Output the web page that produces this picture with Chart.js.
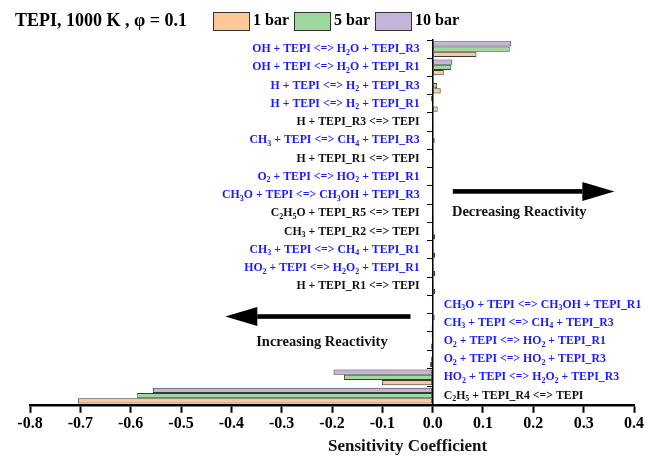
<!DOCTYPE html>
<html>
<head>
<meta charset="utf-8">
<title>TEPI sensitivity, 1000 K</title>
<script src="https://cdn.jsdelivr.net/npm/chart.js@4.4.1/dist/chart.umd.min.js"></script>
<style>
  body { margin: 0; background: #fff; }
  #wrap { width: 648px; height: 458px; }
</style>
</head>
<body>
<div id="wrap"><canvas id="sensChart" width="648" height="458"></canvas></div>
<script>
// reactions, top to bottom as in the figure
const reactions = [
    'OH + TEPI <=> H₂O + TEPI_R3',
    'OH + TEPI <=> H₂O + TEPI_R1',
    'H + TEPI <=> H₂ + TEPI_R3',
    'H + TEPI <=> H₂ + TEPI_R1',
    'H + TEPI_R3 <=> TEPI',
    'CH₃ + TEPI <=> CH₄ + TEPI_R3',
    'H + TEPI_R1 <=> TEPI',
    'O₂ + TEPI <=> HO₂ + TEPI_R1',
    'CH₃O + TEPI <=> CH₃OH + TEPI_R3',
    'C₂H₅O + TEPI_R5 <=> TEPI',
    'CH₃ + TEPI_R2 <=> TEPI',
    'CH₃ + TEPI <=> CH₄ + TEPI_R1',
    'HO₂ + TEPI <=> H₂O₂ + TEPI_R1',
    'H + TEPI_R1 <=> TEPI',
    'CH₃O + TEPI <=> CH₃OH + TEPI_R1',
    'CH₃ + TEPI <=> CH₄ + TEPI_R3',
    'O₂ + TEPI <=> HO₂ + TEPI_R1',
    'O₂ + TEPI <=> HO₂ + TEPI_R3',
    'HO₂ + TEPI <=> H₂O₂ + TEPI_R3',
    'C₂H₅ + TEPI_R4 <=> TEPI'
];

const bar1 = [0.087, 0.022, 0.016, 0.010, 0.002, 0.001, 0.002, 0.001, 0.001, 0.002,
              0.005, 0.005, 0.005, 0.005, -0.001, -0.002, -0.003, -0.005, -0.101, -0.705];
const bar5 = [0.153, 0.037, 0.009, 0.001, 0.001, 0.004, 0.001, 0.000, 0.000, 0.001,
              0.002, 0.002, 0.002, 0.002, -0.001, -0.001, -0.001, -0.003, -0.176, -0.587];
const bar10 = [0.156, 0.039, 0.002, -0.003, 0.001, 0.001, 0.002, 0.000, 0.000, 0.001,
               0.001, 0.001, 0.001, 0.001, 0.001, 0.004, -0.002, -0.001, -0.197, -0.556];

const xTickValues = [-0.8, -0.7, -0.6, -0.5, -0.4, -0.3, -0.2, -0.1, 0.0, 0.1, 0.2, 0.3, 0.4];

const FONT = "'Liberation Serif', 'Times New Roman', serif";
const BLUE = '#1a1aff';

function bold(size) {
    return 'bold ' + size + 'px ' + FONT;
}

// splits "H₂O" into runs so the digits can be drawn as real subscripts
function splitSubs(text) {
    const runs = [];
    for (const ch of text) {
        const code = ch.charCodeAt(0);
        const sub = code >= 0x2080 && code <= 0x2089;
        const c = sub ? String(code - 0x2080) : ch;
        if (runs.length && runs[runs.length - 1].sub === sub) {
            runs[runs.length - 1].t += c;
        } else {
            runs.push({ t: c, sub: sub });
        }
    }
    return runs;
}

function drawRich(ctx, text, x, y, align, size) {
    const runs = splitSubs(text);
    const subSize = Math.round(size * 0.68);
    let width = 0;
    runs.forEach(r => {
        ctx.font = bold(r.sub ? subSize : size);
        r.w = ctx.measureText(r.t).width;
        width += r.w;
    });
    let cx = align === 'right' ? x - width : x;
    ctx.textAlign = 'left';
    ctx.textBaseline = 'middle';
    runs.forEach(r => {
        ctx.font = bold(r.sub ? subSize : size);
        ctx.fillText(r.t, cx, r.sub ? y + size * 0.3 : y);
        cx += r.w;
    });
}

function drawArrow(ctx, xTail, xTip, y) {
    const dir = xTip > xTail ? 1 : -1;
    const headLen = 32;
    const headHalf = 9.5;
    ctx.save();
    ctx.fillStyle = '#000';
    ctx.fillRect(Math.min(xTail, xTip - dir * headLen), y - 2.3, Math.abs(xTip - dir * headLen - xTail), 4.6);
    ctx.beginPath();
    ctx.moveTo(xTip, y);
    ctx.lineTo(xTip - dir * headLen, y - headHalf);
    ctx.lineTo(xTip - dir * headLen, y + headHalf);
    ctx.closePath();
    ctx.fill();
    ctx.restore();
}

const decorations = {
    id: 'decorations',
    afterDraw(chart) {
        const ctx = chart.ctx;
        const xs = chart.scales.x;
        const ys = chart.scales.y;
        const zero = xs.getPixelForValue(0);
        ctx.save();

        // title and legend
        ctx.fillStyle = '#000';
        ctx.font = bold(18);
        ctx.textAlign = 'left';
        ctx.textBaseline = 'middle';
        ctx.fillText('TEPI, 1000 K , φ = 0.1', 15, 21);

        let lx = 213;
        chart.data.datasets.slice().reverse().forEach(ds => {
            ctx.fillStyle = ds.backgroundColor;
            ctx.fillRect(lx, 12, 36, 18);
            ctx.strokeStyle = '#333';
            ctx.lineWidth = 1;
            ctx.strokeRect(lx + 0.5, 12.5, 36, 18);
            ctx.fillStyle = '#000';
            ctx.font = bold(16);
            ctx.fillText(ds.label, lx + 40, 21);
            lx += 40 + ctx.measureText(ds.label).width + 5;
        });

        // reaction labels, on the side opposite to the bars
        reactions.forEach((name, i) => {
            const y = ys.getPixelForValue(i);
            ctx.fillStyle = name.endsWith('<=> TEPI') ? '#111' : BLUE;
            if (bar1[i] >= 0) {
                drawRich(ctx, name, zero - 13, y, 'right', 11.8);
            } else {
                drawRich(ctx, name, zero + 11, y, 'left', 11.8);
            }
        });

        // reactivity arrows
        drawArrow(ctx, xs.getPixelForValue(0.04), xs.getPixelForValue(0.361), ys.getPixelForValue(7.8));
        drawArrow(ctx, xs.getPixelForValue(-0.044), xs.getPixelForValue(-0.412), ys.getPixelForValue(14.66));
        ctx.fillStyle = '#111';
        ctx.font = bold(14.5);
        ctx.textAlign = 'center';
        ctx.fillText('Decreasing Reactivity', xs.getPixelForValue(0.172), ys.getPixelForValue(8.95));
        ctx.fillText('Increasing Reactivity', xs.getPixelForValue(-0.22), ys.getPixelForValue(16.05));

        // axis title
        ctx.font = bold(17);
        ctx.fillText('Sensitivity Coefficient', xs.getPixelForValue(-0.05), 447);
        ctx.restore();
    }
};

function buildChart() {
    const ctx = document.getElementById('sensChart');
    new Chart(ctx, {
        type: 'bar',
        data: {
            labels: reactions,
            datasets: [
                { label: '10 bar', data: bar10, backgroundColor: '#c4b4da' },
                { label: '5 bar', data: bar5, backgroundColor: '#9fd89d' },
                { label: '1 bar', data: bar1, backgroundColor: '#fcc896' }
            ]
        },
        options: {
            indexAxis: 'y',
            responsive: false,
            animation: false,
            layout: { padding: { left: 30, right: 14, top: 40, bottom: 24 } },
            datasets: {
                bar: {
                    borderColor: '#3a3a3a',
                    borderWidth: 1,
                    borderSkipped: false,
                    categoryPercentage: 0.87,
                    barPercentage: 1.0
                }
            },
            scales: {
                x: {
                    type: 'linear',
                    position: 'bottom',
                    min: -0.8,
                    max: 0.4,
                    afterBuildTicks: scale => {
                        scale.ticks = xTickValues.map(v => ({ value: v }));
                    },
                    ticks: {
                        color: '#000',
                        padding: 1,
                        font: { family: FONT, size: 16, weight: 'bold' },
                        callback: v => (Math.abs(v) < 1e-9 ? 0 : v).toFixed(1)
                    },
                    grid: {
                        drawOnChartArea: false,
                        color: '#000',
                        tickLength: 8,
                        tickWidth: 2
                    },
                    border: { color: '#000', width: 2.5 }
                },
                y: {
                    type: 'category',
                    position: { x: 0 },
                    offset: true,
                    ticks: { display: false },
                    grid: {
                        drawOnChartArea: false,
                        offset: true,
                        color: '#000',
                        tickLength: 5,
                        tickWidth: 1
                    },
                    border: { color: '#000', width: 1.5 }
                }
            },
            plugins: {
                legend: { display: false },
                title: { display: false },
                tooltip: { enabled: false }
            }
        },
        plugins: [decorations]
    });
}

document.addEventListener('DOMContentLoaded', buildChart);
</script>
</body>
</html>
